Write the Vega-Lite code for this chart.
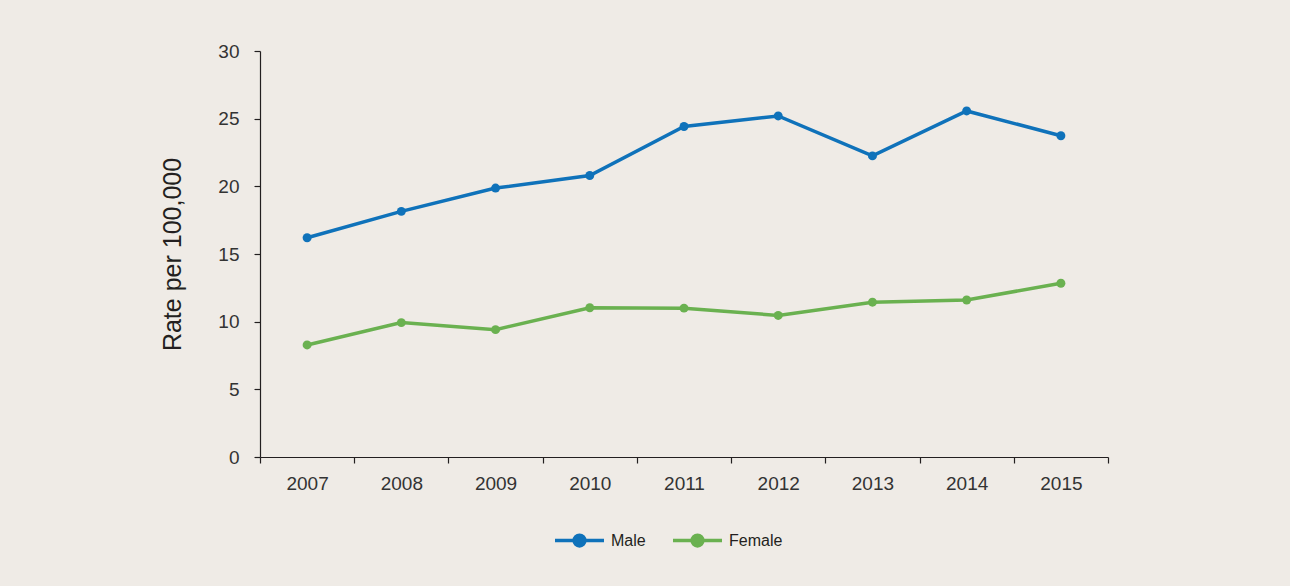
{
  "$schema": "https://vega.github.io/schema/vega-lite/v6.json",
  "width": 848,
  "height": 406,
  "autosize": {"type": "none"},
  "padding": {"left": 260, "top": 51, "right": 182, "bottom": 129},
  "background": "#efebe6",
  "config": {
    "view": {"stroke": null},
    "font": "Liberation Sans, Arial, sans-serif",
    "axis": {
      "grid": false,
      "domainColor": "#231f20",
      "tickColor": "#231f20",
      "domainWidth": 1.2,
      "tickWidth": 1.2,
      "tickSize": 6,
      "labelColor": "#333333",
      "labelFontSize": 19,
      "labelFont": "Liberation Sans, Arial, sans-serif",
      "titleFont": "Liberation Sans, Arial, sans-serif",
      "titleColor": "#231f20",
      "titleFontWeight": "normal"
    }
  },
  "data": {
    "values": [
      {"year": "2007", "sex": "Male", "rate": 16.2},
      {"year": "2008", "sex": "Male", "rate": 18.15},
      {"year": "2009", "sex": "Male", "rate": 19.87},
      {"year": "2010", "sex": "Male", "rate": 20.8},
      {"year": "2011", "sex": "Male", "rate": 24.42},
      {"year": "2012", "sex": "Male", "rate": 25.2},
      {"year": "2013", "sex": "Male", "rate": 22.25},
      {"year": "2014", "sex": "Male", "rate": 25.57},
      {"year": "2015", "sex": "Male", "rate": 23.74},
      {"year": "2007", "sex": "Female", "rate": 8.28},
      {"year": "2008", "sex": "Female", "rate": 9.93},
      {"year": "2009", "sex": "Female", "rate": 9.41},
      {"year": "2010", "sex": "Female", "rate": 11.03},
      {"year": "2011", "sex": "Female", "rate": 11.0},
      {"year": "2012", "sex": "Female", "rate": 10.46},
      {"year": "2013", "sex": "Female", "rate": 11.44},
      {"year": "2014", "sex": "Female", "rate": 11.6},
      {"year": "2015", "sex": "Female", "rate": 12.84}
    ]
  },
  "encoding": {
    "x": {
      "field": "year",
      "type": "ordinal",
      "scale": {"type": "band", "paddingInner": 0, "paddingOuter": 0},
      "axis": {"title": null, "labelAngle": 0, "tickBand": "extent", "labelPadding": 11}
    },
    "y": {
      "field": "rate",
      "type": "quantitative",
      "scale": {"domain": [0, 30], "nice": false},
      "axis": {
        "title": "Rate per 100,000",
        "titleFontSize": 25,
        "titlePadding": 32,
        "values": [0, 5, 10, 15, 20, 25, 30],
        "labelPadding": 15
      }
    },
    "color": {
      "field": "sex",
      "type": "nominal",
      "sort": ["Male", "Female"],
      "scale": {"domain": ["Male", "Female"], "range": ["#0f72ba", "#6ab150"]},
      "legend": {
        "title": null,
        "orient": "none",
        "direction": "horizontal",
        "legendX": 293,
        "legendY": 463,
        "padding": 0,
        "symbolType": "M-1,0H1M-0.22,0A0.22,0.22,0,1,1,0.22,0A0.22,0.22,0,1,1,-0.22,0Z",
        "symbolSize": 2401,
        "symbolStrokeWidth": 3.5,
        "labelFontSize": 16,
        "labelColor": "#231f20",
        "labelOffset": 5,
        "columnPadding": 20,
        "labelFont": "Liberation Sans, Arial, sans-serif",
        "encode": {
          "symbols": {
            "update": {
              "fill": {"scale": "color", "field": "value"},
              "stroke": {"scale": "color", "field": "value"},
              "opacity": {"value": 1},
              "fillOpacity": {"value": 1}
            }
          }
        }
      }
    }
  },
  "layer": [
    {"mark": {"type": "line", "strokeWidth": 3.5}},
    {"mark": {"type": "point", "filled": true, "size": 80, "opacity": 1}}
  ]
}
